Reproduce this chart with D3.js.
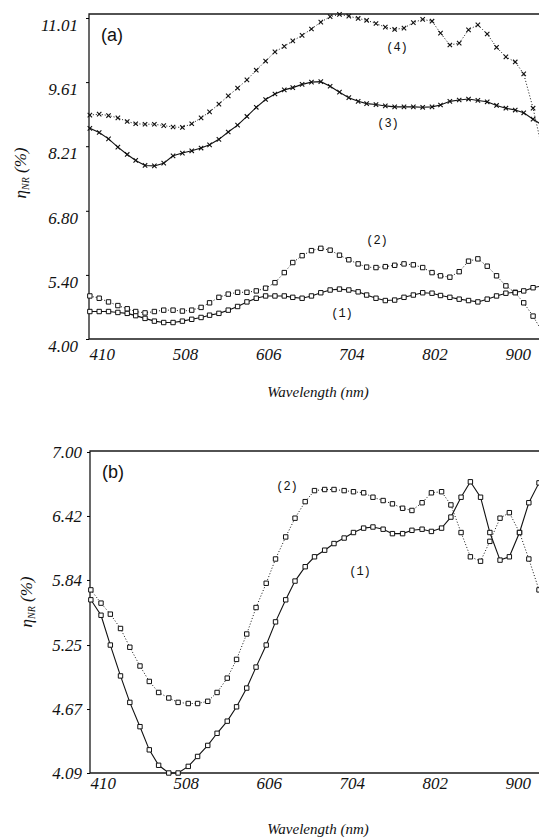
<!DOCTYPE html>
<html>
<head>
<meta charset="utf-8">
<script src="https://cdn.jsdelivr.net/npm/d3@7/dist/d3.min.js"></script>
<style>
  body { margin: 0; background: #fff; }
  .tick text { font-family: "Liberation Serif", serif; font-style: italic; font-size: 17px; fill: #111; }
  .axttl { font-family: "Liberation Serif", serif; font-style: italic; fill: #111; }
  .plab { font-family: "Liberation Sans", Arial, sans-serif; font-size: 18px; fill: #111; }
  .slab { font-family: "Liberation Mono", monospace; font-size: 12px; fill: #111; }
</style>
</head>
<body>
<svg width="539" height="839"></svg>
<script>

// sampling grid (nm) of each panel
var waveA = [411,422,433,444,455,465,476,487,498,509,520,531,542,552,563,574,585,596,607,618,
             629,640,650,661,672,683,694,705,716,727,737,748,759,770,781,792,803,814,824,835,
             846,857,868,879,890,901,912,922,933,944];
var waveB = [411,423,434,446,457,469,480,491,503,514,526,537,549,560,572,583,595,606,618,629,
             641,652,664,675,687,698,710,721,733,744,756,767,779,790,802,813,825,836,848,859,
             871,882,894,905,917,928,940];

// panel (a)
var a1 = [4.60,4.60,4.60,4.58,4.56,4.51,4.45,4.39,4.36,4.36,4.39,4.43,4.47,4.52,4.56,4.63,4.71,4.81,4.89,4.94,
          4.94,4.94,4.91,4.89,4.94,5.01,5.07,5.09,5.07,5.03,4.96,4.89,4.84,4.85,4.91,4.96,5.01,5.00,4.95,4.91,
          4.87,4.84,4.81,4.87,4.94,5.00,5.02,5.05,5.12,5.16];
var a2 = [4.94,4.89,4.81,4.73,4.66,4.60,4.57,4.60,4.63,4.63,4.61,4.63,4.69,4.79,4.91,4.98,5.02,5.02,5.05,5.11,
          5.23,5.45,5.67,5.82,5.93,5.98,5.94,5.83,5.73,5.64,5.57,5.56,5.58,5.61,5.64,5.62,5.56,5.45,5.38,5.35,
          5.47,5.70,5.75,5.59,5.38,5.16,5.01,4.79,4.50,4.15];
var a3 = [8.60,8.51,8.37,8.19,8.03,7.90,7.79,7.78,7.84,8.00,8.06,8.11,8.17,8.24,8.36,8.52,8.67,8.86,9.06,9.23,
          9.35,9.44,9.49,9.56,9.61,9.62,9.52,9.39,9.27,9.19,9.14,9.12,9.09,9.07,9.07,9.07,9.06,9.07,9.11,9.19,
          9.22,9.24,9.21,9.18,9.10,9.04,9.00,8.94,8.80,8.67];
var a4 = [8.89,8.91,8.88,8.83,8.75,8.70,8.69,8.69,8.66,8.63,8.62,8.70,8.83,8.96,9.13,9.31,9.48,9.66,9.87,10.07,
          10.27,10.39,10.51,10.63,10.77,10.92,11.04,11.09,11.05,11.00,10.96,10.89,10.81,10.76,10.79,10.91,10.98,10.94,10.68,10.42,
          10.46,10.75,10.86,10.66,10.37,10.16,10.05,9.79,9.04,8.13];

// panel (b)
var b1 = [5.66,5.52,5.25,4.97,4.73,4.51,4.30,4.16,4.09,4.09,4.15,4.24,4.34,4.45,4.56,4.69,4.86,5.05,5.25,5.46,
          5.66,5.83,5.96,6.05,6.11,6.17,6.22,6.27,6.31,6.32,6.30,6.26,6.26,6.29,6.30,6.28,6.31,6.41,6.59,6.73,
          6.59,6.27,6.02,6.05,6.27,6.54,6.72];
var b2 = [5.75,5.63,5.53,5.40,5.23,5.06,4.92,4.82,4.77,4.73,4.72,4.72,4.74,4.82,4.95,5.12,5.35,5.59,5.81,6.03,
          6.23,6.40,6.55,6.65,6.66,6.66,6.65,6.64,6.63,6.59,6.56,6.53,6.49,6.47,6.54,6.63,6.64,6.52,6.27,6.05,
          6.01,6.19,6.40,6.45,6.27,6.03,5.75];

var xTicks = [410, 508, 606, 704, 802, 900];
var yTicksA = [4.00, 5.40, 6.80, 8.21, 9.61, 11.01];
var yTicksB = [4.09, 4.67, 5.25, 5.84, 6.42, 7.00];

var svg = d3.select("svg"),
    W = +svg.attr("width");

function panel(o) {
  var x = d3.scaleLinear().domain([410, 940]).range([o.left, W]);
  var y = d3.scaleLinear().domain(o.yDomain).range(o.yRange);
  var g = svg.append("g");

  g.append("clipPath").attr("id", o.id + "clip")
    .append("rect").attr("x", o.left - 4).attr("y", 0).attr("width", W).attr("height", 839);

  // frame: top, left, bottom
  g.append("path")
    .attr("d", "M" + W + "," + o.top + "H" + o.left + "V" + o.bottom + "H" + W)
    .attr("fill", "none").attr("stroke", "#1a1a1a").attr("stroke-width", 1.3);

  var ya = g.append("g")
      .attr("transform", "translate(" + o.left + ",0)")
      .call(d3.axisLeft(y).tickValues(o.yTicks).tickSize(3).tickPadding(o.ypad).tickFormat(d3.format(".2f")));
  ya.select(".domain").remove();
  ya.selectAll("text").attr("dy", o.ydy);

  var xa = g.append("g")
      .attr("transform", "translate(0," + o.bottom + ")")
      .call(d3.axisBottom(x).tickValues(xTicks).tickSize(0).tickPadding(o.xpad));
  xa.select(".domain").remove();
  xa.selectAll("text").attr("text-anchor", "start");

  g.append("text").attr("class", "axttl")
    .attr("x", 318).attr("y", o.xTitleY).attr("text-anchor", "middle")
    .style("font-size", "15px").text("Wavelength (nm)");

  var yt = g.append("text").attr("class", "axttl")
    .attr("transform", "translate(" + o.yTitleX + "," + o.yTitleY + ") rotate(-90)")
    .attr("text-anchor", "middle").style("font-size", "17px");
  yt.append("tspan").text("\u03b7");
  yt.append("tspan").attr("dy", 3).style("font-size", "10px").text("NR");
  yt.append("tspan").attr("dy", -3).text(" (%)");

  g.append("text").attr("class", "plab").attr("x", o.left + 12).attr("y", o.top + 27).text(o.name);

  var plot = g.append("g").attr("clip-path", "url(#" + o.id + "clip)");
  o.series.forEach(function(s) {
    var pts = s.values.map(function(v, i) { return [x(o.wave[i]), y(v)]; });
    plot.append("path")
      .attr("d", d3.line()(pts))
      .attr("fill", "none").attr("stroke", "#111")
      .attr("stroke-width", s.dotted ? 1 : 1.1)
      .attr("stroke-dasharray", s.dotted ? "1,2" : null);
    var m = plot.append("g").selectAll("path").data(pts).enter().append("path")
      .attr("transform", function(p) { return "translate(" + p[0] + "," + p[1] + ")"; });
    if (s.marker === "square") {
      m.attr("d", "M-2.2,-2.2H2.2V2.2H-2.2Z").attr("fill", "#fff").attr("stroke", "#111").attr("stroke-width", 1);
    } else {
      m.attr("d", "M-2.2,-2.2L2.2,2.2M-2.2,2.2L2.2,-2.2").attr("fill", "none").attr("stroke", "#111").attr("stroke-width", 1.1);
    }
    g.append("text").attr("class", "slab").attr("x", s.lx).attr("y", s.ly)
      .attr("text-anchor", "middle").text(s.label);
  });
}

panel({
  id: "a", name: "(a)", left: 89, top: 14, bottom: 339,
  yDomain: [4.00, 11.01], yRange: [339, 18], yTicks: yTicksA, ypad: 8, ydy: "0.72em",
  xpad: 9, xTitleY: 397, yTitleX: 26, yTitleY: 173, wave: waveA,
  series: [
    { values: a1, marker: "square", dotted: false, label: "(1)", lx: 342, ly: 317 },
    { values: a2, marker: "square", dotted: true,  label: "(2)", lx: 377, ly: 244 },
    { values: a3, marker: "cross",  dotted: false, label: "(3)", lx: 388, ly: 127 },
    { values: a4, marker: "cross",  dotted: true,  label: "(4)", lx: 397, ly: 51 }
  ]
});

panel({
  id: "b", name: "(b)", left: 90, top: 451, bottom: 773,
  yDomain: [4.09, 7.00], yRange: [773, 452], yTicks: yTicksB, ypad: 5, ydy: "0.32em",
  xpad: 4, xTitleY: 834, yTitleX: 32, yTitleY: 602, wave: waveB,
  series: [
    { values: b1, marker: "square", dotted: false, label: "(1)", lx: 360, ly: 575 },
    { values: b2, marker: "square", dotted: true,  label: "(2)", lx: 287, ly: 490 }
  ]
});

</script>
</body>
</html>
